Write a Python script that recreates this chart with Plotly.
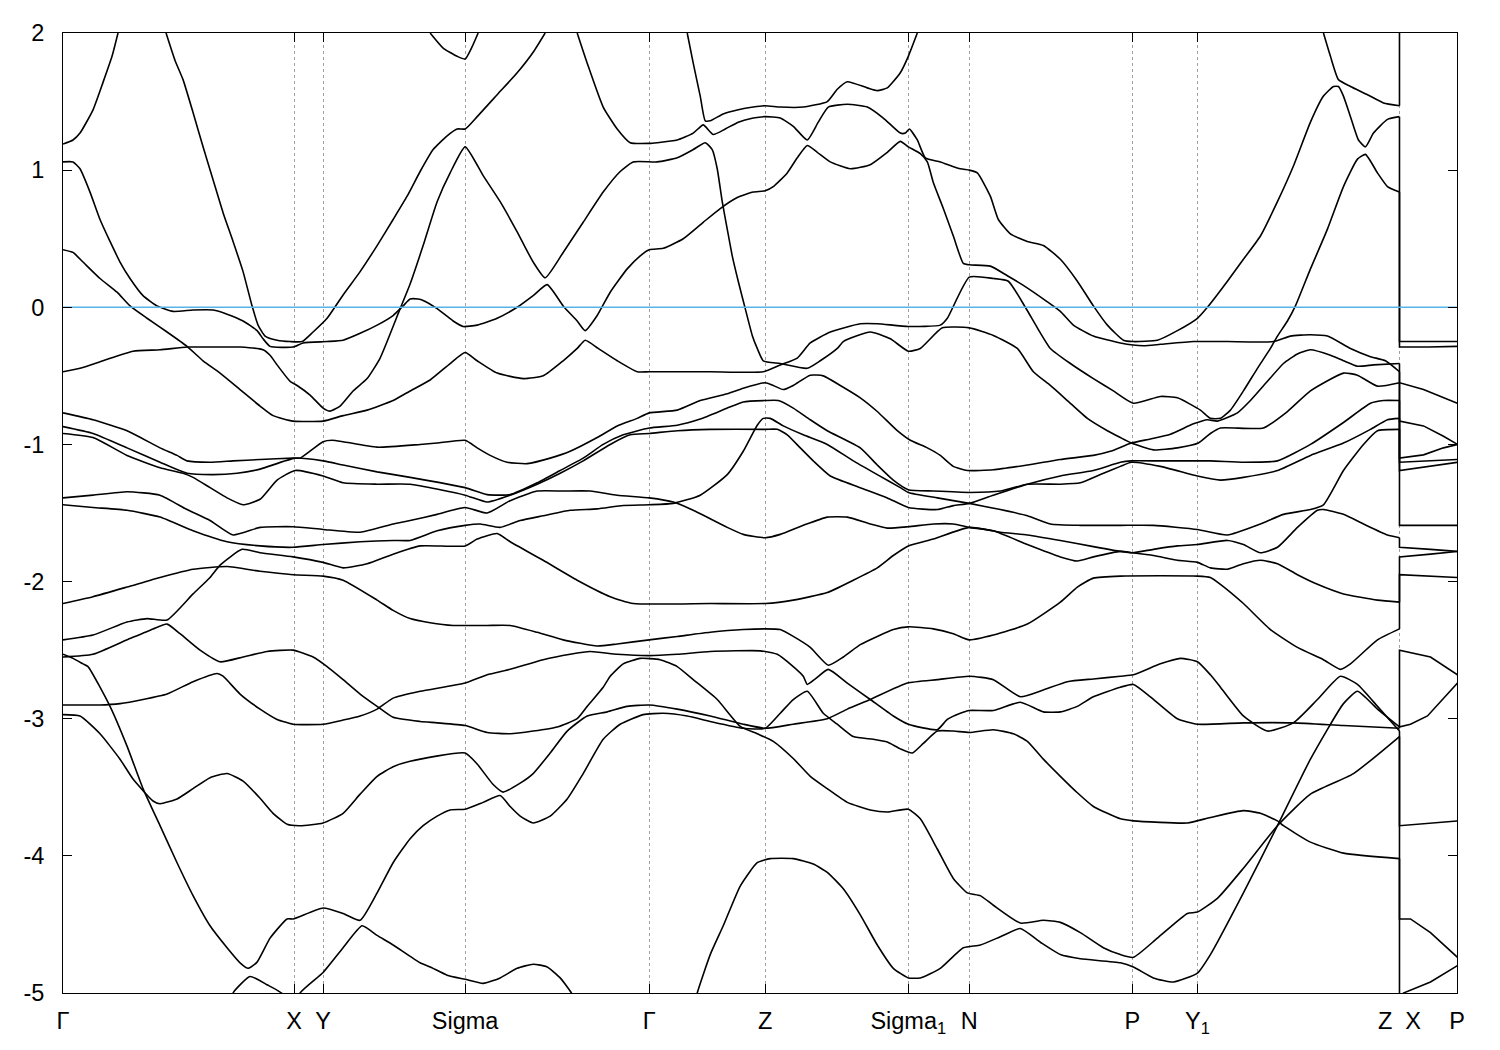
import plotly.graph_objects as go

# ---------------- axis data ----------------
kpath_pos = [0, 231, 260, 402, 586, 702, 845, 906, 1069, 1134, 1336, 1393.5]
kpath_labels = ["Γ", "X", "Y", "Sigma", "Γ", "Z", "Sigma<sub>1</sub>", "N", "P",
                "Y<sub>1</sub>", "Z\u00a0\u00a0X", "P"]
e_ticks = [-5, -4, -3, -2, -1, 0, 1, 2]
e_range = [-5, 2]
k_range = [0, 1393.5]
fermi_level = 0.0

# ---------------- bands along Γ-X-Y-Sigma-Γ-Z-Sigma1-N-P-Y1-Z  (k, E[eV]) ----------------
band_T1 = [(0, 1.19), (10, 1.22), (17, 1.27), (30, 1.44), (40, 1.64), (49, 1.83), (55, 2.0)]
band_T2 = [(103, 2.0), (112, 1.80), (120, 1.66), (130, 1.42), (140, 1.17), (150, 0.93), (160, 0.69),
           (170, 0.48), (180, 0.26), (189, 0.01), (195, -0.13), (202, -0.21), (214, -0.24), (227, -0.25),
           (239, -0.25), (250, -0.18), (264, -0.08), (280, 0.09), (297, 0.26), (314, 0.45), (330, 0.64),
           (344, 0.81), (357, 0.99), (370, 1.15), (384, 1.25), (394, 1.30), (402, 1.30), (414, 1.39),
           (434, 1.55), (454, 1.71), (470, 1.86), (482, 2.0)]
band_T3 = [(367, 2.0), (380, 1.89), (394, 1.83), (402, 1.81), (409, 1.90), (415, 2.0)]
band_T4 = [(0, 1.06), (10, 1.06), (17, 1.01), (27, 0.84), (37, 0.64), (47, 0.48), (57, 0.33), (67, 0.21),
           (80, 0.085), (94, 0.01), (110, -0.03), (130, -0.02), (150, -0.02), (164, -0.05), (180, -0.10),
           (194, -0.17), (200, -0.23), (207, -0.285), (230, -0.29), (240, -0.26), (264, -0.25), (280, -0.24),
           (297, -0.19), (314, -0.13), (330, -0.06), (340, 0.01), (347, 0.06), (355, 0.06), (360, 0.05),
           (374, -0.01), (390, -0.10), (400, -0.14), (414, -0.13), (434, -0.08), (454, 0.0), (470, 0.085),
           (484, 0.165), (500, 0.01), (514, -0.10), (522, -0.17), (534, -0.06), (547, 0.11), (564, 0.28),
           (577, 0.375), (586, 0.42), (600, 0.43), (620, 0.50), (640, 0.62), (657, 0.72), (674, 0.80),
           (690, 0.84), (702, 0.85), (710, 0.88), (724, 0.98), (734, 1.09), (744, 1.18), (754, 1.13),
           (767, 1.06), (787, 1.01), (807, 1.04), (824, 1.13), (837, 1.21), (845, 1.17), (857, 1.12),
           (864, 1.06), (870, 0.91), (880, 0.72), (890, 0.52), (900, 0.32), (906, 0.31), (927, 0.30),
           (944, 0.23), (960, 0.16), (984, 0.04), (997, -0.03), (1010, -0.13), (1030, -0.21), (1057, -0.26),
           (1080, -0.28), (1097, -0.27), (1130, -0.25), (1164, -0.25), (1210, -0.25), (1227, -0.21),
           (1247, -0.20), (1264, -0.21), (1287, -0.30), (1307, -0.36), (1322, -0.39), (1336, -0.47)]
band_S1 = [(624, 2.0), (630, 1.78), (637, 1.54), (642, 1.36), (647, 1.36), (660, 1.41), (675, 1.44),
           (690, 1.46), (702, 1.47), (717, 1.46), (740, 1.46), (764, 1.50), (774, 1.59), (784, 1.645),
           (804, 1.60), (814, 1.58), (824, 1.60), (837, 1.71), (845, 1.83), (854, 2.0)]
band_S2 = [(514, 2.0), (524, 1.78), (540, 1.46), (554, 1.30), (567, 1.20), (586, 1.195), (594, 1.20),
           (614, 1.22), (630, 1.27), (640, 1.33), (650, 1.26), (662, 1.30), (675, 1.35), (690, 1.38),
           (702, 1.39), (717, 1.38), (730, 1.32), (744, 1.22), (755, 1.35), (765, 1.46), (784, 1.48),
           (804, 1.46), (820, 1.38), (837, 1.27), (842, 1.27), (846, 1.30), (854, 1.22), (862, 1.09),
           (877, 1.06), (897, 1.01), (906, 1.00), (914, 0.98), (927, 0.81), (935, 0.64), (947, 0.535),
           (964, 0.48), (980, 0.45), (997, 0.35), (1014, 0.19), (1030, 0.01), (1044, -0.13), (1060, -0.24),
           (1070, -0.25), (1094, -0.24), (1114, -0.17), (1134, -0.08), (1144, 0.0), (1164, 0.19),
           (1180, 0.35), (1197, 0.52), (1214, 0.77), (1230, 1.03), (1247, 1.35), (1260, 1.54), (1270, 1.61),
           (1275, 1.61), (1280, 1.54), (1287, 1.39), (1295, 1.22), (1302, 1.17), (1310, 1.27), (1324, 1.37),
           (1336, 1.39)]
band_Z3 = [(1260, 2.0), (1267, 1.83), (1275, 1.66), (1287, 1.61), (1304, 1.55), (1320, 1.49), (1336, 1.47)]
band_C3 = [(0, 0.42), (10, 0.40), (20, 0.33), (37, 0.21), (54, 0.11), (67, 0.01), (84, -0.08), (104, -0.18),
           (124, -0.285), (140, -0.39), (157, -0.48), (177, -0.60), (197, -0.72), (210, -0.79), (230, -0.83),
           (260, -0.83), (280, -0.79), (304, -0.75), (330, -0.68), (347, -0.61), (367, -0.53), (387, -0.41),
           (402, -0.33), (414, -0.39), (434, -0.48), (460, -0.52), (480, -0.50), (500, -0.39), (514, -0.30),
           (522, -0.24), (535, -0.30), (554, -0.39), (574, -0.47), (586, -0.47), (647, -0.47), (700, -0.47),
           (717, -0.42), (734, -0.37), (747, -0.26), (767, -0.18), (797, -0.12), (814, -0.12), (845, -0.14),
           (877, -0.13), (884, -0.08), (906, 0.22), (930, 0.21), (945, 0.19), (962, 0.0), (974, -0.15),
           (987, -0.30), (1007, -0.41), (1030, -0.52), (1050, -0.61), (1070, -0.70), (1097, -0.65),
           (1114, -0.66), (1137, -0.75), (1147, -0.81), (1157, -0.81), (1167, -0.75), (1180, -0.61),
           (1194, -0.445), (1207, -0.30), (1214, -0.21), (1224, -0.10), (1232, 0.01), (1247, 0.28),
           (1264, 0.57), (1280, 0.88), (1294, 1.08), (1302, 1.115), (1314, 0.98), (1324, 0.88), (1336, 0.84)]
band_P = [(0, -0.47), (17, -0.445), (40, -0.39), (70, -0.32), (97, -0.31), (124, -0.29), (150, -0.29),
          (177, -0.29), (200, -0.31), (207, -0.35), (214, -0.42), (227, -0.54), (234, -0.57), (247, -0.64),
          (260, -0.735), (267, -0.757), (277, -0.72), (290, -0.61), (304, -0.52), (317, -0.37), (337, -0.01),
          (347, 0.17), (360, 0.45), (374, 0.77), (387, 0.98), (402, 1.17), (420, 0.96), (437, 0.77),
          (454, 0.55), (470, 0.33), (482, 0.215), (500, 0.40), (520, 0.62), (540, 0.84), (557, 0.99),
          (570, 1.06), (594, 1.06), (614, 1.09), (630, 1.15), (642, 1.20), (649, 1.15), (654, 1.01),
          (659, 0.77), (664, 0.57), (669, 0.375), (675, 0.19), (682, -0.01), (689, -0.205), (694, -0.30),
          (700, -0.39), (717, -0.41), (744, -0.445), (757, -0.39), (774, -0.30), (780, -0.25), (807, -0.18),
          (827, -0.23), (845, -0.32), (857, -0.30), (879, -0.15), (906, -0.15), (930, -0.205), (954, -0.30),
          (970, -0.47), (987, -0.57), (1004, -0.68), (1024, -0.81), (1044, -0.90), (1057, -0.95),
          (1068, -0.99), (1090, -1.04), (1114, -1.025), (1135, -0.99), (1147, -0.92), (1157, -0.88),
          (1200, -0.88), (1224, -0.76), (1247, -0.61), (1280, -0.48), (1294, -0.495), (1314, -0.575),
          (1336, -0.55)]
band_m1 = [(0, -0.77), (30, -0.82), (64, -0.90), (97, -1.025), (114, -1.08), (124, -1.12), (147, -1.13),
           (170, -1.12), (197, -1.11), (230, -1.10), (237, -1.10), (260, -0.98), (269, -0.97), (280, -0.98),
           (314, -1.02), (357, -1.00), (374, -0.99), (402, -0.97), (414, -1.025), (427, -1.08), (444, -1.13),
           (464, -1.14), (487, -1.10), (507, -1.05), (534, -0.95), (554, -0.865), (574, -0.81), (586, -0.77),
           (614, -0.75), (637, -0.68), (664, -0.63), (680, -0.59), (702, -0.55), (710, -0.57), (720, -0.60),
           (730, -0.57), (747, -0.495), (760, -0.50), (777, -0.57), (797, -0.66), (814, -0.76), (834, -0.90),
           (847, -0.97), (864, -1.025), (877, -1.08), (890, -1.16), (904, -1.19), (930, -1.185),
           (964, -1.15), (997, -1.11), (1030, -1.08), (1047, -1.05), (1068, -0.99), (1087, -0.96),
           (1107, -0.925), (1130, -0.85), (1144, -0.82), (1154, -0.83), (1174, -0.77), (1187, -0.68),
           (1204, -0.54), (1220, -0.41), (1234, -0.34), (1247, -0.31), (1267, -0.35), (1280, -0.39),
           (1294, -0.43), (1310, -0.42), (1336, -0.41)]
band_m2 = [(0, -0.87), (30, -0.92), (64, -1.025), (97, -1.13), (124, -1.21), (150, -1.22), (174, -1.21),
           (197, -1.18), (232, -1.10), (260, -1.12), (280, -1.15), (314, -1.20), (347, -1.24), (402, -1.315),
           (424, -1.366), (447, -1.366), (474, -1.28), (497, -1.19), (520, -1.10), (540, -1.00), (560, -0.93),
           (586, -0.88), (614, -0.86), (637, -0.815), (664, -0.735), (680, -0.69), (702, -0.68), (715, -0.68),
           (730, -0.735), (747, -0.82), (764, -0.90), (797, -1.025), (814, -1.15), (830, -1.26), (845, -1.33),
           (870, -1.34), (906, -1.35), (937, -1.34), (964, -1.29), (997, -1.29), (1017, -1.28), (1037, -1.22),
           (1057, -1.16), (1068, -1.13), (1097, -1.16), (1134, -1.23), (1157, -1.26), (1180, -1.24),
           (1214, -1.19), (1247, -1.08), (1280, -0.99), (1307, -0.89), (1324, -0.82), (1336, -0.81)]
band_m3 = [(0, -0.92), (30, -0.95), (64, -1.08), (97, -1.17), (120, -1.21), (130, -1.24), (147, -1.315),
           (164, -1.39), (180, -1.44), (197, -1.40), (214, -1.26), (232, -1.19), (260, -1.23), (280, -1.28),
           (314, -1.29), (347, -1.29), (402, -1.37), (424, -1.42), (447, -1.37), (474, -1.29), (497, -1.21),
           (520, -1.12), (547, -1.00), (567, -0.93), (586, -0.92), (614, -0.90), (647, -0.89), (702, -0.89),
           (714, -0.89), (724, -0.93), (737, -1.025), (750, -1.12), (767, -1.23), (797, -1.315), (824, -1.39),
           (845, -1.46), (874, -1.475), (890, -1.446), (906, -1.43), (930, -1.37), (964, -1.29),
           (997, -1.23), (1030, -1.19), (1057, -1.13), (1068, -1.12), (1097, -1.12), (1147, -1.12),
           (1180, -1.13), (1214, -1.12), (1247, -1.00), (1280, -0.84), (1307, -0.70), (1320, -0.68),
           (1336, -0.68)]
band_m4 = [(0, -1.39), (30, -1.37), (64, -1.345), (97, -1.37), (124, -1.475), (147, -1.555), (170, -1.66),
           (197, -1.605), (230, -1.60), (260, -1.62), (297, -1.64), (330, -1.58), (347, -1.555), (374, -1.51),
           (402, -1.46), (424, -1.50), (447, -1.41), (474, -1.34), (500, -1.34), (527, -1.34), (554, -1.37),
           (586, -1.39), (610, -1.42), (630, -1.48), (664, -1.605), (680, -1.656), (702, -1.68), (717, -1.656),
           (740, -1.59), (764, -1.53), (784, -1.53), (807, -1.58), (824, -1.61), (845, -1.60), (870, -1.58),
           (890, -1.58), (906, -1.605), (930, -1.63), (964, -1.73), (997, -1.82), (1014, -1.85),
           (1030, -1.82), (1057, -1.78), (1069, -1.79), (1090, -1.81), (1114, -1.845), (1134, -1.86),
           (1147, -1.90), (1164, -1.91), (1180, -1.87), (1197, -1.845), (1214, -1.87), (1234, -1.95),
           (1254, -2.02), (1280, -2.09), (1314, -2.135), (1336, -2.15)]
band_m5 = [(0, -1.44), (30, -1.46), (64, -1.48), (97, -1.53), (130, -1.63), (164, -1.71), (197, -1.74),
           (230, -1.75), (260, -1.73), (297, -1.71), (330, -1.70), (347, -1.70), (374, -1.63), (402, -1.59),
           (417, -1.58), (437, -1.605), (457, -1.555), (480, -1.52), (507, -1.48), (534, -1.47), (560, -1.445),
           (586, -1.44), (610, -1.43), (637, -1.37), (664, -1.22), (680, -1.05), (694, -0.86), (700, -0.81),
           (707, -0.81), (720, -0.865), (740, -0.93), (764, -1.00), (790, -1.12), (814, -1.22), (837, -1.315),
           (845, -1.35), (874, -1.39), (906, -1.43), (937, -1.475), (964, -1.52), (987, -1.58), (1017, -1.59),
           (1057, -1.59), (1090, -1.59), (1134, -1.62), (1164, -1.66), (1197, -1.58), (1220, -1.51),
           (1247, -1.475), (1260, -1.44), (1280, -1.19), (1300, -1.00), (1314, -0.90), (1336, -0.89)]
band_m6 = [(0, -2.425), (30, -2.39), (64, -2.295), (84, -2.27), (104, -2.28), (130, -2.09), (147, -1.97),
           (157, -1.88), (179, -1.765), (197, -1.79), (230, -1.82), (260, -1.86), (280, -1.90), (304, -1.87),
           (330, -1.80), (357, -1.74), (402, -1.74), (414, -1.69), (434, -1.65), (447, -1.71), (480, -1.845),
           (514, -1.99), (547, -2.11), (570, -2.16), (647, -2.16), (702, -2.16), (730, -2.135), (764, -2.08),
           (790, -1.99), (814, -1.90), (830, -1.81), (845, -1.74), (870, -1.69), (906, -1.605), (937, -1.64),
           (964, -1.66), (997, -1.70), (1030, -1.745), (1057, -1.78), (1069, -1.79), (1090, -1.765),
           (1114, -1.74), (1134, -1.73), (1164, -1.70), (1180, -1.73), (1197, -1.79), (1214, -1.75),
           (1234, -1.605), (1254, -1.48), (1260, -1.475), (1280, -1.51), (1300, -1.58), (1324, -1.66),
           (1336, -1.68)]
band_m7 = [(0, -2.16), (30, -2.11), (64, -2.04), (97, -1.97), (130, -1.91), (164, -1.89), (197, -1.925),
           (230, -1.95), (260, -1.96), (280, -1.99), (314, -2.135), (330, -2.21), (347, -2.27), (367, -2.30),
           (390, -2.32), (402, -2.32), (424, -2.32), (447, -2.32), (474, -2.37), (500, -2.425), (534, -2.47),
           (554, -2.455), (586, -2.425), (614, -2.40), (647, -2.37), (680, -2.35), (702, -2.345), (717, -2.35),
           (730, -2.40), (747, -2.48), (765, -2.61), (780, -2.55), (797, -2.46), (814, -2.40), (830, -2.35),
           (845, -2.33), (870, -2.345), (890, -2.38), (906, -2.425), (930, -2.39), (964, -2.31), (997, -2.15),
           (1014, -2.04), (1030, -1.975), (1057, -1.96), (1134, -1.96), (1147, -1.97), (1157, -2.02),
           (1180, -2.16), (1207, -2.35), (1234, -2.48), (1260, -2.57), (1277, -2.64), (1287, -2.60),
           (1314, -2.425), (1336, -2.345)]
band_i = [(0, -2.55), (30, -2.53), (64, -2.425), (90, -2.345), (104, -2.31), (117, -2.38), (137, -2.50),
          (157, -2.585), (180, -2.55), (204, -2.51), (230, -2.50), (250, -2.55), (264, -2.62), (280, -2.715),
          (297, -2.82), (314, -2.91), (330, -2.99), (357, -3.02), (374, -3.03), (402, -3.05), (424, -3.10),
          (447, -3.11), (470, -3.09), (494, -3.06), (514, -3.00), (524, -2.91), (540, -2.77), (547, -2.69),
          (560, -2.60), (577, -2.56), (597, -2.57), (614, -2.62), (630, -2.715), (654, -2.86), (677, -3.056),
          (694, -3.11), (710, -3.165), (730, -3.29), (747, -3.42), (764, -3.51), (784, -3.61), (807, -3.665),
          (824, -3.68), (845, -3.66), (857, -3.73), (874, -3.95), (890, -4.165), (904, -4.27), (917, -4.29),
          (930, -4.36), (957, -4.49), (980, -4.47), (997, -4.485), (1017, -4.56), (1040, -4.67),
          (1057, -4.72), (1070, -4.74), (1094, -4.60), (1124, -4.42), (1134, -4.41), (1154, -4.31),
          (1180, -4.09), (1214, -3.78), (1247, -3.55), (1290, -3.40), (1336, -3.13)]
band_K1 = [(0, -2.90), (17, -2.90), (37, -2.90), (57, -2.89), (80, -2.86), (104, -2.82), (130, -2.73),
           (154, -2.67), (160, -2.69), (177, -2.82), (197, -2.93), (214, -3.005), (230, -3.04), (260, -3.04),
           (280, -3.01), (297, -2.98), (314, -2.93), (330, -2.85), (357, -2.80), (402, -2.74), (424, -2.68),
           (447, -2.64), (480, -2.57), (507, -2.53), (527, -2.51), (554, -2.53), (586, -2.54), (614, -2.53),
           (647, -2.51), (697, -2.505), (714, -2.53), (730, -2.62), (740, -2.69), (744, -2.75), (752, -2.71),
           (765, -2.64), (784, -2.74), (807, -2.86), (830, -2.98), (845, -3.04), (874, -3.08), (884, -3.005),
           (897, -2.96), (906, -2.94), (930, -2.94), (957, -2.88), (980, -2.95), (997, -2.95), (1014, -2.91),
           (1030, -2.84), (1057, -2.77), (1070, -2.75), (1087, -2.84), (1114, -3.00), (1134, -3.04),
           (1180, -3.03), (1230, -3.03), (1280, -3.05), (1336, -3.07)]
band_K2 = [(0, -2.97), (17, -2.98), (37, -3.11), (57, -3.295), (70, -3.44), (90, -3.60), (97, -3.62),
           (114, -3.585), (130, -3.51), (147, -3.43), (164, -3.40), (180, -3.455), (197, -3.58), (210, -3.69),
           (224, -3.77), (237, -3.78), (260, -3.76), (280, -3.69), (297, -3.55), (314, -3.42), (330, -3.35),
           (347, -3.31), (402, -3.25), (414, -3.33), (430, -3.48), (440, -3.535), (457, -3.47), (470, -3.40),
           (487, -3.25), (504, -3.09), (524, -2.98), (544, -2.95), (564, -2.91), (586, -2.90), (614, -2.93),
           (647, -2.98), (680, -3.04), (702, -3.07), (730, -3.04), (764, -3.00), (784, -2.93), (807, -2.86),
           (844, -2.74), (874, -2.715), (906, -2.69), (930, -2.715), (957, -2.84), (980, -2.79), (1004, -2.73),
           (1030, -2.71), (1057, -2.69), (1070, -2.68), (1097, -2.60), (1117, -2.56), (1134, -2.585),
           (1147, -2.68), (1157, -2.77), (1180, -2.98), (1204, -3.09), (1230, -3.03), (1254, -2.86),
           (1277, -2.69), (1294, -2.75), (1314, -2.91), (1336, -3.09)]
band_K3 = [(0, -2.53), (10, -2.56), (20, -2.60), (25, -2.62), (47, -2.91), (64, -3.20), (80, -3.51),
           (97, -3.78), (114, -4.05), (130, -4.29), (147, -4.51), (164, -4.67), (177, -4.78), (185, -4.82),
           (194, -4.775), (207, -4.60), (224, -4.46), (230, -4.46), (260, -4.38), (280, -4.42), (297, -4.47),
           (314, -4.27), (330, -4.05), (347, -3.875), (360, -3.78), (374, -3.71), (387, -3.665), (402, -3.66),
           (420, -3.61), (437, -3.56), (447, -3.64), (457, -3.71), (470, -3.76), (487, -3.71), (504, -3.585),
           (520, -3.40), (540, -3.15), (557, -3.04), (580, -2.97), (600, -2.96), (624, -2.98), (647, -3.02),
           (680, -3.07), (702, -3.07), (717, -2.96), (730, -2.86), (744, -2.80), (760, -2.96), (774, -3.04),
           (790, -3.13), (810, -3.15), (824, -3.17), (837, -3.22), (849, -3.25), (860, -3.18), (874, -3.09),
           (890, -3.09), (906, -3.10), (930, -3.08), (950, -3.11), (964, -3.165), (980, -3.295),
           (997, -3.42), (1014, -3.54), (1030, -3.64), (1044, -3.69), (1057, -3.73), (1070, -3.745),
           (1124, -3.76), (1147, -3.72), (1180, -3.67), (1197, -3.69), (1214, -3.745), (1220, -3.78),
           (1247, -3.90), (1280, -3.98), (1336, -4.02)]
band_E = [(631, -5.1), (634, -5.0), (647, -4.72), (660, -4.51), (677, -4.22), (694, -4.05), (707, -4.02),
          (730, -4.02), (750, -4.06), (764, -4.12), (780, -4.24), (797, -4.43), (814, -4.65), (830, -4.82),
          (845, -4.89), (857, -4.89), (877, -4.82), (900, -4.67), (917, -4.65), (937, -4.59), (957, -4.53),
          (977, -4.63), (997, -4.72), (1017, -4.75), (1057, -4.78), (1070, -4.81), (1090, -4.89),
          (1110, -4.92), (1134, -4.855), (1147, -4.72), (1180, -4.27), (1214, -3.78), (1247, -3.295),
          (1280, -2.89), (1294, -2.80), (1314, -2.93), (1336, -3.06)]
band_K4 = [(235, -5.1), (237, -5.0), (260, -4.85), (280, -4.67), (299, -4.51), (314, -4.58), (330, -4.65),
           (357, -4.78), (367, -4.81), (384, -4.87), (402, -4.90), (420, -4.93), (437, -4.89), (454, -4.82),
           (470, -4.79), (484, -4.81), (497, -4.89), (509, -5.01), (512, -5.1)]
band_K5 = [(168, -5.1), (170, -5.0), (187, -4.88), (204, -4.94), (220, -5.01), (222, -5.1)]

# ---------------- Z -> X jump and X-P segment (first value = energy at Z) ----------------
xp_1 = [(1336, 1.47), (1336, 2.2)]
xp_2 = [(1336, 1.39), (1336, -0.25), (1394, -0.25)]
xp_3 = [(1336, 0.84), (1336, -0.29), (1365, -0.29), (1394, -0.285)]
xp_4 = [(1336, -0.41), (1336, -0.55), (1360, -0.60), (1394, -0.70)]
xp_5 = [(1336, -0.47), (1336, -0.83), (1360, -0.865), (1380, -0.94), (1394, -1.00)]
xp_6 = [(1336, -0.55), (1336, -1.10), (1360, -1.076), (1380, -1.025), (1394, -1.00)]
xp_7 = [(1336, -0.68), (1336, -1.13), (1394, -1.11)]
xp_8 = [(1336, -0.81), (1336, -1.19), (1394, -1.13)]
xp_9 = [(1336, -0.89), (1336, -1.59), (1394, -1.59)]
xp_10 = [(1336, -1.68), (1336, -1.75), (1367, -1.765), (1394, -1.78)]
xp_11 = [(1336, -2.15), (1336, -1.82), (1367, -1.80), (1394, -1.78)]
xp_12 = [(1336, -2.345), (1336, -1.95), (1394, -1.97)]
xp_13 = [(1336, -3.06), (1336, -2.50), (1367, -2.55), (1394, -2.68)]
xp_14 = [(1336, -3.07), (1336, -3.06), (1347, -3.04), (1364, -2.98), (1394, -2.74)]
xp_15 = [(1336, -3.09), (1336, -3.78), (1394, -3.745)]
xp_16 = [(1336, -3.13), (1336, -4.46), (1347, -4.46), (1367, -4.56), (1394, -4.74)]
xp_17 = [(1336, -4.02), (1336, -5.2), (1340, -5.0), (1367, -4.92), (1394, -4.80)]

main_bands = [band_T1, band_T2, band_T3, band_T4, band_S1, band_S2, band_Z3, band_C3, band_P,
              band_m1, band_m2, band_m3, band_m4, band_m5, band_m6, band_m7, band_i, band_K1,
              band_K2, band_K3, band_E, band_K4, band_K5]
xp_segments = [xp_1, xp_2, xp_3, xp_4, xp_5, xp_6, xp_7, xp_8, xp_9, xp_10, xp_11, xp_12,
               xp_13, xp_14, xp_15, xp_16, xp_17]

fig = go.Figure()
for b in main_bands:
    fig.add_trace(go.Scatter(x=[p[0] for p in b], y=[p[1] for p in b], mode="lines",
                             line=dict(color="black", width=1.6, shape="spline", smoothing=0.5),
                             hoverinfo="skip", showlegend=False))
for s in xp_segments:
    fig.add_trace(go.Scatter(x=[p[0] for p in s], y=[p[1] for p in s], mode="lines",
                             line=dict(color="black", width=1.6),
                             hoverinfo="skip", showlegend=False))
# Fermi level
fig.add_trace(go.Scatter(x=k_range, y=[fermi_level, fermi_level], mode="lines",
                         line=dict(color="#56b4e9", width=1.6), hoverinfo="skip", showlegend=False))

axis_font = dict(family="Liberation Sans, Arial, sans-serif", size=23.5, color="black")
fig.update_layout(
    width=1500, height=1050,
    margin=dict(l=55, r=51, t=20, b=65),
    paper_bgcolor="white", plot_bgcolor="white",
    font=axis_font,
    xaxis=dict(range=k_range, tickmode="array", tickvals=kpath_pos, ticktext=kpath_labels,
               ticks="inside", ticklen=9, tickwidth=1, tickcolor="black",
               showline=True, linecolor="black", linewidth=1, mirror="ticks",
               showgrid=True, gridcolor="#a0a0a0", gridwidth=1, griddash="3px,3px",
               zeroline=False, tickfont=axis_font, ticklabelstandoff=7),
    yaxis=dict(range=e_range, tickmode="array", tickvals=e_ticks, ticktext=[str(t) for t in e_ticks],
               ticks="inside", ticklen=9, tickwidth=1, tickcolor="black",
               showline=True, linecolor="black", linewidth=1, mirror="ticks",
               showgrid=False, zeroline=False, tickfont=axis_font, ticklabelstandoff=13),
)
fig.write_html("out.html")
